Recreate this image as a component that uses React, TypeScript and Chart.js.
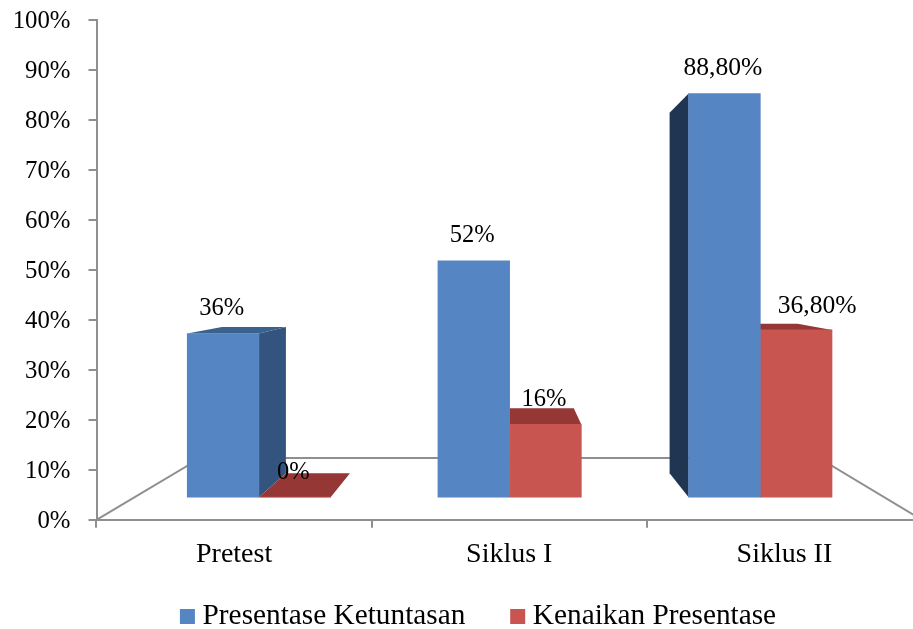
import React, { useEffect, useRef } from "react";
import { Chart, registerables } from "chart.js";

Chart.register(...registerables);

const categories = ["Pretest", "Siklus I", "Siklus II"];
const ketuntasan = [36, 52, 88.8];
const kenaikan = [0, 16, 36.8];
const yTicksMax = 100;

const FONT = "'Liberation Serif', 'Times New Roman', serif";
const AXIS = "#8f8f8f";
const VP = { x: 511, y: 273 };
const BAR_DEPTH = 0.107;
const FLOOR_DEPTH = 0.251;
const faces = [
  { front: "#5586c3", top: "#39628f", right: "#33547e", left: "#1f3552" },
  { front: "#c95550", top: "#953735", right: "#953735", left: "#772c2a" },
];

function back(x: number, y: number, f: number) {
  return [x + f * (VP.x - x), y + f * (VP.y - y)];
}

function poly(ctx: CanvasRenderingContext2D, pts: number[][], fill: string) {
  ctx.fillStyle = fill;
  ctx.beginPath();
  pts.forEach((p, i) => (i ? ctx.lineTo(p[0], p[1]) : ctx.moveTo(p[0], p[1])));
  ctx.closePath();
  ctx.fill();
}

function fmt(v: number) {
  return Number.isInteger(v) ? `${v}%` : `${v.toFixed(2).replace(".", ",")}%`;
}

const perspective = {
  id: "perspective",
  afterLayout(chart: any) {
    const lg = chart.legend;
    const h = lg.bottom - lg.top;
    lg.left = 41;
    lg.right = 922;
    lg.top = 550;
    lg.bottom = 550 + h;
  },
  beforeDatasetsDraw(chart: any) {
    const ctx = chart.ctx;
    const { left, right } = chart.chartArea;
    const y0 = chart.scales.y.getPixelForValue(0);
    const bl = back(left, y0, FLOOR_DEPTH);
    const br = back(right, y0, FLOOR_DEPTH);
    ctx.save();
    ctx.strokeStyle = AXIS;
    ctx.lineWidth = 2;
    ctx.beginPath();
    ctx.moveTo(left, y0);
    ctx.lineTo(bl[0], bl[1]);
    ctx.lineTo(br[0], br[1]);
    ctx.lineTo(right, y0);
    ctx.stroke();
    chart.data.datasets.forEach((_: any, d: number) => {
      const c = faces[d];
      chart.getDatasetMeta(d).data.forEach((bar: any) => {
        const { x, y, width, base } = bar.getProps(["x", "y", "width", "base"], true);
        const l = x - width / 2;
        const r = x + width / 2;
        if (r < VP.x) {
          poly(ctx, [[r, y], back(r, y, BAR_DEPTH), back(r, base, BAR_DEPTH), [r, base]], c.right);
        }
        if (l > VP.x) {
          poly(ctx, [[l, y], back(l, y, BAR_DEPTH), back(l, base, BAR_DEPTH), [l, base]], c.left);
        }
        if (y > VP.y) {
          poly(ctx, [[l, y], [r, y], back(r, y, BAR_DEPTH), back(l, y, BAR_DEPTH)], c.top);
        }
      });
    });
    ctx.restore();
  },
  afterDatasetsDraw(chart: any) {
    const ctx = chart.ctx;
    ctx.save();
    ctx.fillStyle = "#000";
    ctx.textAlign = "center";
    ctx.textBaseline = "middle";
    chart.data.datasets.forEach((ds: any, d: number) => {
      chart.getDatasetMeta(d).data.forEach((bar: any, i: number) => {
        const { x, y } = bar.getProps(["x", "y"], true);
        const text = fmt(ds.data[i].y);
        ctx.font = `${text.length > 3 ? 25.6 : 24.5}px ${FONT}`;
        const lastRed = d === 1 && i === categories.length - 1;
        ctx.fillText(text, x + (lastRed ? 21 : -1.5), y - (lastRed ? 24 : 25));
      });
    });
    ctx.restore();
  },
};

export default function App() {
  const ref = useRef<HTMLCanvasElement>(null);
  useEffect(() => {
    const chart = new Chart(ref.current!, {
      type: "bar",
      plugins: [perspective],
      data: {
        labels: categories,
        datasets: [
          {
            label: "Presentase Ketuntasan",
            data: ketuntasan.map((y, x) => ({ x, y })),
            backgroundColor: faces[0].front,
            xAxisID: "xb",
            yAxisID: "yb",
          },
          {
            label: "Kenaikan Presentase",
            data: kenaikan.map((y, x) => ({ x, y })),
            backgroundColor: faces[1].front,
            xAxisID: "xb",
            yAxisID: "yb",
          },
        ],
      } as any,
      options: {
        animation: false,
        responsive: false,
        devicePixelRatio: 1,
        barThickness: 71.7,
        layout: { padding: { left: 0, top: 20, right: 0, bottom: 0 } },
        plugins: {
          tooltip: { enabled: false },
          legend: {
            position: "bottom",
            labels: {
              usePointStyle: true,
              pointStyle: "rect",
              boxWidth: 1,
              boxHeight: 15,
              padding: 51.85,
              color: "#000",
              font: { family: FONT, size: 29.3 },
            },
          },
        },
        scales: {
          x: {
            type: "category",
            offset: true,
            afterFit(s: any) {
              s.height = 60;
            },
            border: { color: AXIS, width: 2 },
            grid: { offset: true, drawOnChartArea: false, color: AXIS, lineWidth: 2, tickLength: 8 },
            ticks: { color: "#000", padding: 10, maxRotation: 0, autoSkip: false, font: { family: FONT, size: 28 } },
          },
          y: {
            type: "linear",
            position: "left",
            min: 0,
            max: yTicksMax,
            afterFit(s: any) {
              s.width = 96.5;
              s.paddingTop = 0;
              s.paddingBottom = 0;
            },
            border: { color: AXIS, width: 2 },
            grid: { drawOnChartArea: false, color: AXIS, lineWidth: 2, tickLength: 8 },
            ticks: {
              stepSize: 10,
              color: "#000",
              padding: 18,
              labelOffset: 1.5,
              font: { family: FONT, size: 24.8 },
              callback: (v: any) => `${v}%`,
            },
          },
          xb: { type: "linear", axis: "x", display: false, offset: false, min: -0.648, max: 2.645 },
          yb: { type: "linear", axis: "y", display: false, min: -5, max: 105 },
        },
      } as any,
    });
    return () => chart.destroy();
  }, []);
  return (
    <div style={{ position: "fixed", left: 0, top: 0, width: 913, height: 629, overflow: "hidden", background: "#fff" }}>
      <canvas ref={ref} width={922} height={671} style={{ display: "block" }} />
    </div>
  );
}
